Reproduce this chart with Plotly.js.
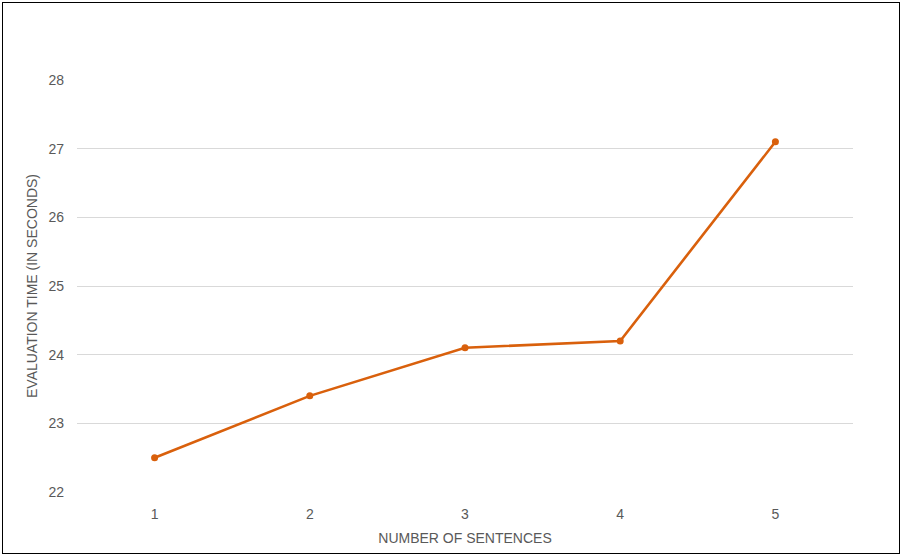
<!DOCTYPE html>
<html>
<head>
<meta charset="utf-8">
<script src="https://cdn.plot.ly/plotly-3.0.1.min.js"></script>
<style>
  body { margin: 0; background: #fff; }
  #chart { position: absolute; left: 2px; top: 2px; width: 898px; height: 552px; border: 1px solid #000; box-sizing: border-box; }
</style>
</head>
<body>
<div id="chart"></div>
<script>
// number of sentences vs evaluation time
var sentences = ["1", "2", "3", "4", "5"];
var evalTime = [22.5, 23.4, 24.1, 24.2, 27.1];

var trace = {
    x: sentences,
    y: evalTime,
    type: "scatter",
    mode: "lines+markers",
    line: { color: "#d9600c", width: 2.6 },
    marker: { color: "#d9600c", size: 7 },
    hoverinfo: "skip"
};

var axisFont = { family: "'Liberation Sans', Arial, sans-serif", size: 14, color: "#595959" };

var layout = {
    width: 896,
    height: 550,
    margin: { l: 74, r: 46, t: 77, b: 61 },
    paper_bgcolor: "#fff",
    plot_bgcolor: "#fff",
    showlegend: false,
    font: axisFont,
    xaxis: {
        type: "category",
        range: [-0.5, 4.5],
        showgrid: false,
        zeroline: false,
        showline: false,
        ticks: "",
        tickfont: axisFont,
        ticklabelstandoff: 12,
        title: { text: "NUMBER OF SENTENCES", font: axisFont, standoff: 12 }
    },
    yaxis: {
        range: [22, 28],
        dtick: 1,
        gridcolor: "#d9d9d9",
        gridwidth: 1,
        zeroline: false,
        showline: false,
        ticks: "",
        tickfont: axisFont,
        ticklabelstandoff: 12,
        title: { text: "EVALUATION TIME (IN SECONDS)", font: axisFont, standoff: 7 }
    }
};

Plotly.newPlot("chart", [trace], layout, { displayModeBar: false, staticPlot: true });
</script>
</body>
</html>
